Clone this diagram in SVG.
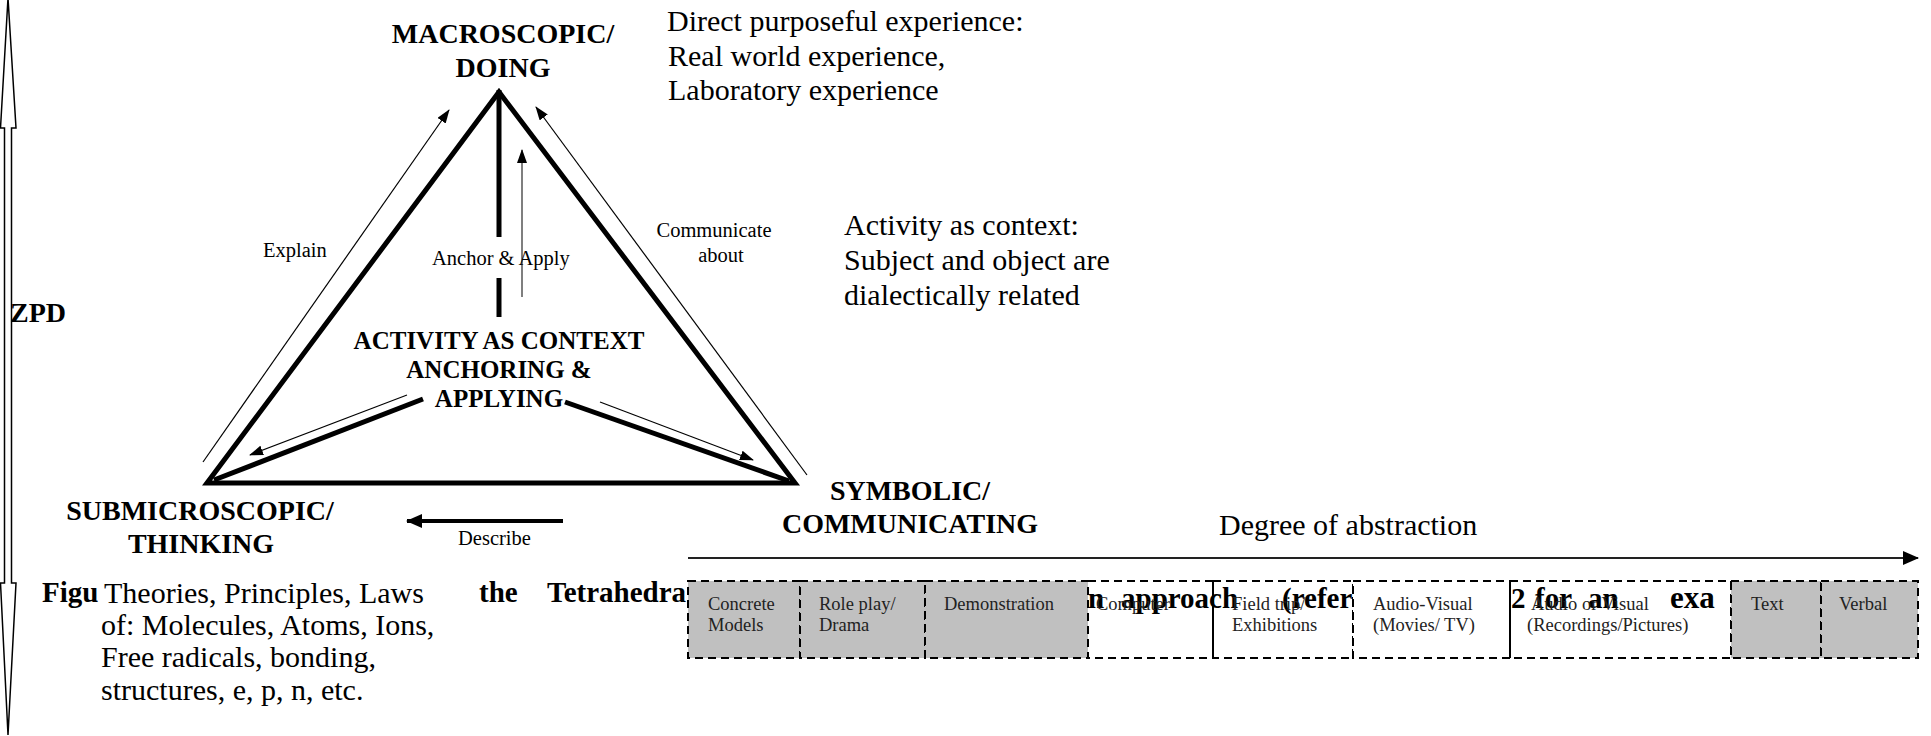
<svg xmlns="http://www.w3.org/2000/svg" width="1931" height="736" viewBox="0 0 1931 736">
<style>
.b{font-family:"Liberation Serif","Times New Roman",serif;font-weight:bold;fill:#000}
.r{font-family:"Liberation Serif","Times New Roman",serif;fill:#000}
.h{font-size:28px}
.big{font-size:30px}
.sm{font-size:20.5px}
.bx{font-size:18.5px;fill:#222}
.cap{font-size:29px}
.thick{stroke:#000;stroke-width:5;fill:none}
.thin{stroke:#000;stroke-width:1.2;fill:none}
.box{stroke:#000;stroke-width:2;stroke-dasharray:8 5}
.g{fill:#c0c0c0}
.w{fill:#fff}
.n{fill:none}
</style>
<defs>
<marker id="ah" viewBox="0 0 14 10" refX="13" refY="5" markerWidth="14" markerHeight="10" markerUnits="userSpaceOnUse" orient="auto">
<path d="M0,0 L14,5 L0,10 z" fill="#000"/>
</marker>
<marker id="ahb" viewBox="0 0 16 14" refX="15" refY="7" markerWidth="16" markerHeight="14" markerUnits="userSpaceOnUse" orient="auto">
<path d="M0,0 L16,7 L0,14 z" fill="#000"/>
</marker>
</defs>
<rect width="1931" height="736" fill="#fff"/>

<!-- caption fragments (partly hidden) -->
<g id="caption" class="b cap">
<text x="42" y="602">Figu</text>
<text x="479" y="602">the</text>
<text x="547" y="602">Tetrahedra</text>
<text x="1088" y="608">n</text>
<text x="1121" y="608">approach</text>
<text x="1282" y="608">(refer</text>
<text x="1511" y="608">2</text>
<text x="1535" y="608">for</text>
<text x="1588" y="608">an</text>
<text x="1670" y="608" font-size="31">exa</text>
</g>

<!-- ZPD double arrow -->
<g id="zpd">
<path d="M8,-2 L16,128 L11.5,128 L11.5,583 L16,583 L8,735 L0.5,583 L4.5,583 L4.5,128 L0.5,128 Z" fill="#fff" stroke="#000" stroke-width="1.5" stroke-linejoin="miter"/>
<text class="b h" x="10" y="322">ZPD</text>
</g>

<!-- triangle structure -->
<g id="connectors">
<polygon class="thick" points="207,483 499,92 795,483" stroke-linejoin="miter"/>
<line class="thick" x1="499" y1="90" x2="499" y2="237"/>
<line class="thick" x1="499" y1="278" x2="499" y2="317"/>
<line class="thick" x1="423" y1="399" x2="214" y2="480"/>
<line class="thick" x1="565" y1="402" x2="789" y2="481"/>
<line class="thin" x1="203" y1="462" x2="449" y2="110" marker-end="url(#ah)"/>
<line class="thin" x1="807" y1="475" x2="536" y2="107" marker-end="url(#ah)"/>
<line class="thin" x1="407" y1="395" x2="250" y2="455" marker-end="url(#ah)"/>
<line class="thin" x1="600" y1="402" x2="753" y2="460" marker-end="url(#ah)"/>
<line x1="522" y1="297" x2="522" y2="150" stroke="#555" stroke-width="1.5" marker-end="url(#ah)"/>
<line x1="563" y1="521" x2="407" y2="521" stroke="#000" stroke-width="4" marker-end="url(#ahb)"/>
<line x1="688" y1="558" x2="1918" y2="558" stroke="#222" stroke-width="2" marker-end="url(#ahb)"/>
</g>

<!-- nodes -->
<g id="node-macroscopic" class="b h" text-anchor="middle">
<text x="503" y="43">MACROSCOPIC/</text>
<text x="503" y="77">DOING</text>
</g>
<g id="node-submicroscopic" class="b h" text-anchor="middle">
<text x="200" y="520">SUBMICROSCOPIC/</text>
<text x="201" y="553">THINKING</text>
</g>
<g id="node-symbolic" class="b h" text-anchor="middle">
<text x="910" y="500">SYMBOLIC/</text>
<text x="910" y="533">COMMUNICATING</text>
</g>
<g id="node-activity" class="b" font-size="25" text-anchor="middle">
<text x="499" y="349">ACTIVITY AS CONTEXT</text>
<text x="499" y="378">ANCHORING &amp;</text>
<text x="499" y="407">APPLYING</text>
</g>

<!-- connector labels -->
<g id="labels" class="r sm">
<text x="263" y="257">Explain</text>
<text x="432" y="265">Anchor &amp; Apply</text>
<text x="714" y="237" text-anchor="middle">Communicate</text>
<text x="721" y="262" text-anchor="middle">about</text>
<text x="458" y="545">Describe</text>
</g>

<!-- descriptions -->
<g id="desc-macro" class="r big">
<text x="667" y="31">Direct purposeful experience:</text>
<text x="668" y="66">Real world experience,</text>
<text x="668" y="100">Laboratory experience</text>
</g>
<g id="desc-activity" class="r big">
<text x="844" y="235">Activity as context:</text>
<text x="844" y="270">Subject and object are</text>
<text x="844" y="305">dialectically related</text>
</g>
<g id="desc-submicro" class="r big">
<text x="104" y="603">Theories, Principles, Laws</text>
<text x="101" y="635">of: Molecules, Atoms, Ions,</text>
<text x="101" y="667">Free radicals, bonding,</text>
<text x="101" y="700">structures, e, p, n, etc.</text>
</g>
<g id="abstraction-label" class="r big">
<text x="1219" y="535">Degree of abstraction</text>
</g>

<!-- media boxes -->
<g id="box-concrete"><rect class="box g" x="688" y="581" width="112" height="77"/><text class="r bx" x="708" y="610">Concrete</text><text class="r bx" x="708" y="631">Models</text></g>
<g id="box-roleplay"><rect class="box g" x="800" y="581" width="125" height="77"/><text class="r bx" x="819" y="610">Role play/</text><text class="r bx" x="819" y="631">Drama</text></g>
<g id="box-demo"><rect class="box g" x="925" y="581" width="163" height="77"/><text class="r bx" x="944" y="610">Demonstration</text></g>
<g id="box-computer"><rect class="box n" x="1088" y="581" width="125" height="77"/><text class="r bx" x="1096" y="610">Computer</text></g>
<g id="box-field"><rect class="box n" x="1213" y="581" width="140" height="77"/><text class="r bx" x="1232" y="610">Field trip/</text><text class="r bx" x="1232" y="631">Exhibitions</text></g>
<g id="box-av"><rect class="box w" x="1353" y="581" width="157" height="77"/><text class="r bx" x="1373" y="610">Audio-Visual</text><text class="r bx" x="1373" y="631">(Movies/ TV)</text></g>
<g id="box-aorv"><rect class="box n" x="1510" y="581" width="221" height="77"/><line x1="1510" y1="581" x2="1510" y2="658" stroke="#000" stroke-width="2"/><text class="r bx" x="1531" y="610">Audio or Visual</text><text class="r bx" x="1527" y="631">(Recordings/Pictures)</text></g>
<g id="box-text"><rect class="box g" x="1731" y="581" width="90" height="77"/><text class="r bx" x="1751" y="610">Text</text></g>
<g id="box-verbal"><rect class="box g" x="1821" y="581" width="97" height="77"/><text class="r bx" x="1839" y="610">Verbal</text></g>
</svg>
